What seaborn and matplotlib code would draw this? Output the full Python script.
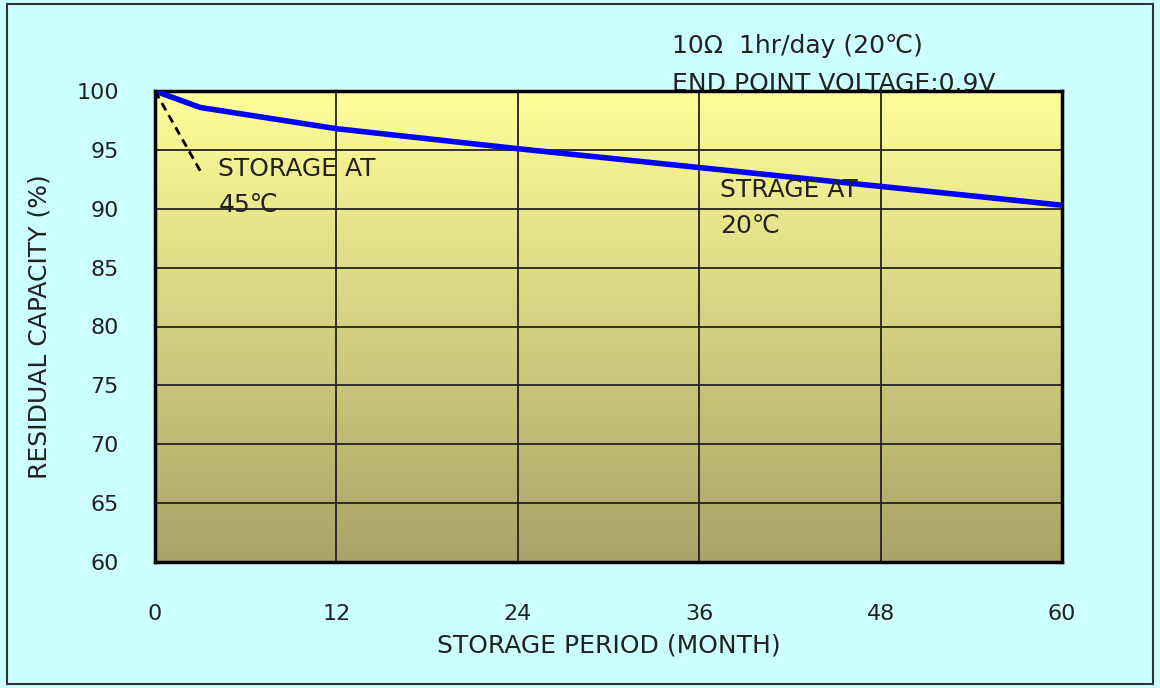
import matplotlib.pyplot as plt
import matplotlib.patches as mpatches
import seaborn as sns
import numpy as np
import pandas as pd

# dados
meses_20 = [0, 3, 6, 12, 24, 36, 48, 60]
capacidade_20 = [100, 98.6, 98.0, 96.8, 95.1, 93.5, 91.9, 90.3]
meses_45 = [0, 3]
capacidade_45 = [100, 93.2]
xticks = [0, 12, 24, 36, 48, 60]
yticks = [60, 65, 70, 75, 80, 85, 90, 95, 100]

df20 = pd.DataFrame({'mes': meses_20, 'cap': capacidade_20})
df45 = pd.DataFrame({'mes': meses_45, 'cap': capacidade_45})

sns.set_style('white')
plt.rcParams['font.family'] = ['DejaVu Sans', 'Noto Sans CJK JP']

FS = 18      # textos
FS_TICK = 16 # números dos eixos
COR_TXT = '#222222'

fig = plt.figure(figsize=(11.6, 6.88), dpi=100)
fig.patch.set_facecolor('#CCFFFF')
ax = fig.add_axes([155 / 1160, 1 - 562 / 688, (1062 - 155) / 1160, (562 - 91) / 688])
ax.set_zorder(2)

# fundo em degradê (amarelo -> oliva)
topo = np.array([255, 255, 153]) / 255
base = np.array([168, 163, 104]) / 255
t = np.linspace(0, 1, 256)[:, None]
grad = (topo * (1 - t) + base * t)[:, None, :]
ax.imshow(grad, extent=[0, 60, 60, 100], aspect='auto', zorder=0, interpolation='bilinear')

for x in xticks[1:-1]:
    ax.axvline(x, color=COR_TXT, lw=1.3, zorder=1)
for y in yticks[1:-1]:
    ax.axhline(y, color=COR_TXT, lw=1.3, zorder=1)

sns.lineplot(data=df20, x='mes', y='cap', ax=ax, color='#0000FF', lw=4, zorder=3)
sns.lineplot(data=df45, x='mes', y='cap', ax=ax, color='black', lw=2, ls=(0, (3, 2)), zorder=3)

ax.set_xlim(0, 60)
ax.set_ylim(60, 100)
ax.set_xticks(xticks)
ax.set_yticks(yticks)
ax.tick_params(length=0, labelsize=FS_TICK, colors=COR_TXT)
ax.tick_params(axis='x', pad=30)
ax.tick_params(axis='y', pad=26)
for s in ax.spines.values():
    s.set_linewidth(2.5)
    s.set_color('black')

ax.set_xlabel('STORAGE PERIOD (MONTH)', fontsize=FS, color=COR_TXT, labelpad=7)
ax.set_ylabel('RESIDUAL CAPACITY (%)', fontsize=FS, color=COR_TXT, labelpad=18)

ax.text(4.2, 93.4, 'STORAGE AT', fontsize=FS, color=COR_TXT, va='center', zorder=4)
ax.text(4.2, 90.3, '45℃', fontsize=FS, color=COR_TXT, va='center', zorder=4)
ax.text(37.4, 91.6, 'STRAGE AT', fontsize=FS, color=COR_TXT, va='center', zorder=4)
ax.text(37.4, 88.5, '20℃', fontsize=FS, color=COR_TXT, va='center', zorder=4)

fig.text(672 / 1160, 1 - 46 / 688, '10Ω  1hr/day (20℃)', fontsize=FS, color=COR_TXT, va='center', zorder=1)
fig.text(672 / 1160, 1 - 84 / 688, 'END POINT VOLTAGE:0.9V', fontsize=FS, color=COR_TXT, va='center', zorder=1)

# moldura da figura
fig.patches.append(mpatches.Rectangle((7 / 1160, 4 / 688), 1 - 14 / 1160, 1 - 8 / 688,
                                      transform=fig.transFigure, fill=False, lw=1.5,
                                      edgecolor='#333333', zorder=0))

fig.savefig('out.png', dpi=100, facecolor=fig.get_facecolor())
